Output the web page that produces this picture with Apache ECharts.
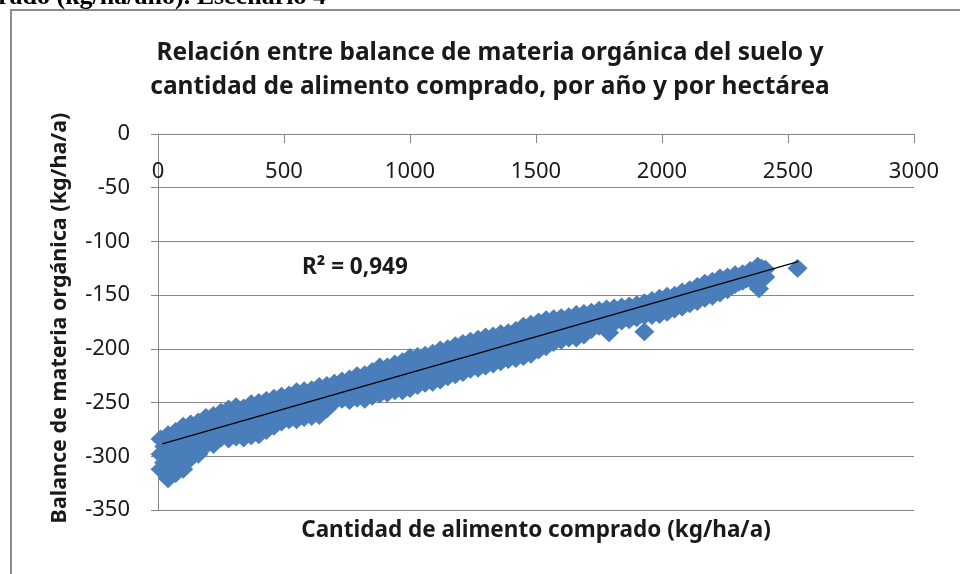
<!DOCTYPE html>
<html>
<head>
<meta charset="utf-8">
<title>Balance de materia orgánica</title>
<script src="https://cdn.jsdelivr.net/npm/echarts@6.0.0/dist/echarts.min.js"></script>
<style>
  html, body { margin: 0; padding: 0; background: #fff; }
  #main { width: 960px; height: 574px; }
</style>
</head>
<body>
<div id="main"></div>
<script>
// Cantidad de alimento comprado (kg/ha/a) - posiciones
var compradoKg = [10, 40, 70, 100, 130, 160, 190, 220, 250, 280, 310, 340, 370, 400, 430, 460, 490, 520, 550, 580,
  610, 640, 670, 700, 730, 760, 790, 820, 850, 880, 910, 940, 970, 1000, 1030, 1060, 1090, 1120, 1150, 1180,
  1210, 1240, 1270, 1300, 1330, 1360, 1390, 1420, 1450, 1480, 1510, 1540, 1570, 1600, 1630, 1660, 1690, 1720, 1750, 1780,
  1810, 1840, 1870, 1900, 1960, 1990, 2020, 2050, 2080, 2110, 2140, 2170, 2200, 2230, 2260, 2290, 2320, 2350, 2380];
// balance de MO: borde superior, centro e inferior de la nube de puntos
var balanceAlto = [-284, -280, -277, -272, -270, -268, -264, -262, -259, -256, -254, -255, -251, -250, -248, -246, -244, -243, -240, -239,
  -238, -235, -234, -232, -230, -228, -225, -224, -221, -217, -217, -214, -212, -208, -207, -206, -204, -201, -200, -197,
  -195, -193, -191, -189, -188, -186, -185, -183, -179, -177, -175, -173, -172, -171, -170, -168, -167, -166, -164, -163,
  -162, -161, -160, -159, -155, -153, -151, -150, -147, -145, -142, -139, -137, -134, -133, -131, -130, -127, -123];
var balanceMedio = [-298, -300, -295, -290, -284, -282, -277, -275, -271, -269, -267, -268, -265, -264, -261, -258, -256, -254, -252, -251,
  -250, -248, -245, -240, -238, -237, -235, -235, -232, -229, -228, -226, -225, -222, -220, -219, -217, -215, -213, -210,
  -208, -206, -204, -202, -201, -199, -197, -196, -193, -191, -188, -185, -183, -181, -180, -179, -177, -174, -171, -170,
  -169, -167, -166, -165, -162, -160, -158, -156, -154, -151, -149, -146, -144, -141, -139, -136, -134, -131, -127];
var balanceBajo = [-312, -321, -316, -312, -300, -298, -290, -289, -283, -284, -282, -283, -281, -280, -276, -272, -268, -266, -266, -264,
  -263, -262, -256, -249, -247, -248, -246, -247, -244, -242, -241, -239, -239, -237, -234, -232, -231, -229, -226, -224,
  -222, -219, -218, -216, -214, -212, -210, -209, -207, -205, -201, -198, -194, -192, -190, -190, -187, -182, -179, -178,
  -176, -174, -173, -171, -169, -168, -166, -163, -161, -158, -156, -153, -151, -148, -145, -140, -137, -135, -131];
// filas intermedias, desplazadas entre columnas
var compradoKgB = [25, 55, 85, 115, 145, 175, 205, 235, 265, 295, 325, 355, 385, 415, 445, 475, 505, 535, 565, 595,
  625, 655, 685, 715, 745, 775, 805, 835, 865, 895, 925, 955, 985, 1015, 1045, 1075, 1105, 1135, 1165, 1195,
  1225, 1255, 1285, 1315, 1345, 1375, 1405, 1435, 1465, 1495, 1525, 1555, 1585, 1615, 1645, 1675, 1705, 1735, 1765, 1795,
  1825, 1855, 1885, 1915, 1975, 2005, 2035, 2065, 2095, 2125, 2155, 2185, 2215, 2245, 2275, 2305, 2335, 2365, 2395];
var balanceMedioAlto = [-291, -289, -285, -280, -276, -274, -270, -268, -264, -262, -260, -261, -258, -256, -254, -252, -250, -248, -246, -245,
  -243, -241, -239, -236, -234, -232, -230, -229, -226, -223, -222, -220, -218, -215, -213, -212, -210, -208, -206, -203,
  -201, -199, -197, -195, -194, -192, -191, -189, -186, -184, -181, -179, -177, -176, -175, -173, -172, -170, -167, -166,
  -165, -164, -163, -162, -158, -156, -154, -153, -150, -148, -145, -142, -140, -137, -136, -133, -132, -129, -125];
var balanceMedioBajo = [-306, -311, -306, -302, -292, -290, -283, -282, -277, -276, -274, -275, -272, -271, -268, -265, -262, -260, -259, -257,
  -256, -255, -250, -244, -242, -242, -240, -241, -238, -235, -234, -232, -232, -229, -227, -225, -224, -222, -219, -217,
  -215, -212, -211, -209, -207, -205, -203, -202, -200, -198, -194, -191, -188, -186, -185, -184, -182, -178, -175, -174,
  -172, -170, -169, -168, -165, -164, -162, -159, -157, -154, -152, -149, -147, -144, -142, -138, -135, -133, -129];
// puntos sueltos
var extraX = [25, 55, 85, 115, 1930, 1930, 1930, 1790, 1930, 2385, 2410, 2410, 2538];
var extraY = [-306, -310, -306, -305, -157, -163, -169, -185, -184, -144, -126, -133, -125];
// linea de tendencia (extremos leidos)
var tendenciaX = [17, 2540];
var tendenciaY = [-288.5, -118.7];

var puntos = [];
for (var i = 0; i < compradoKg.length; i++) {
  puntos.push([compradoKg[i], balanceAlto[i]]);
  puntos.push([compradoKg[i], balanceMedio[i]]);
  puntos.push([compradoKg[i], balanceBajo[i]]);
  puntos.push([compradoKgB[i], balanceMedioAlto[i]]);
  puntos.push([compradoKgB[i], balanceMedioBajo[i]]);
}
for (var j = 0; j < extraX.length; j++) {
  puntos.push([extraX[j], extraY[j]]);
}
var tendencia = [];
for (var k = 0; k < tendenciaX.length; k++) {
  tendencia.push([tendenciaX[k], tendenciaY[k]]);
}

var fuente = '"Noto Sans", "Open Sans", sans-serif';
var gris = '#868686';
var myChart = echarts.init(document.getElementById('main'), null, { renderer: 'canvas' });
var option = {
  animation: false,
  backgroundColor: '#fff',
  grid: { left: 158, top: 134, width: 756, height: 376, containLabel: false },
  xAxis: {
    type: 'value', position: 'top', min: 0, max: 3000, interval: 500,
    axisLine: { show: true, lineStyle: { color: gris, width: 1 } },
    axisTick: { show: true, inside: true, length: 9, lineStyle: { color: gris } },
    axisLabel: { inside: true, margin: 27, color: '#1a1a1a', fontSize: 22, fontFamily: fuente,
      formatter: function (v) { return String(v); } },
    splitLine: { show: false }
  },
  yAxis: {
    type: 'value', min: -350, max: 0, interval: 50,
    axisLine: { show: true, lineStyle: { color: gris, width: 1 } },
    axisTick: { show: true, length: 7, lineStyle: { color: gris } },
    axisLabel: { margin: 28, color: '#1a1a1a', fontSize: 22, fontFamily: fuente,
      formatter: function (v) { return String(v); } },
    splitLine: { show: true, lineStyle: { color: gris, width: 1 } }
  },
  series: [
    {
      type: 'scatter', data: puntos, symbol: 'diamond', symbolSize: [20, 19],
      itemStyle: { color: '#4a7ebb', opacity: 1 }, z: 2
    },
    {
      type: 'line', data: tendencia, showSymbol: false, symbol: 'none',
      lineStyle: { color: '#000', width: 1.3 }, z: 3
    }
  ],
  graphic: [
    { type: 'rect', shape: { x: 11, y: 10, width: 980, height: 600 }, style: { fill: null, stroke: '#8c8c8c', lineWidth: 2 }, silent: true },
    { type: 'text', x: -2, y: 10, style: { text: 'rado (kg/ha/año). Escenario 4', font: 'bold 26px "Liberation Serif", serif', fill: '#000', textAlign: 'left', textVerticalAlign: 'bottom' } },
    { type: 'text', x: 490, y: 70, style: { text: 'Relación entre balance de materia orgánica del suelo y\ncantidad de alimento comprado, por año y por hectárea', font: 'bold 24.5px ' + fuente, fill: '#1a1a1a', textAlign: 'center', textVerticalAlign: 'middle', lineHeight: 34 } },
    { type: 'text', x: 60, y: 318, rotation: Math.PI / 2, style: { text: 'Balance de materia orgánica (kg/ha/a)', font: 'bold 21.5px ' + fuente, fill: '#1a1a1a', textAlign: 'center', textVerticalAlign: 'middle' } },
    { type: 'text', x: 536, y: 531, style: { text: 'Cantidad de alimento comprado (kg/ha/a)', font: 'bold 22.5px ' + fuente, fill: '#1a1a1a', textAlign: 'center', textVerticalAlign: 'middle' } },
    { type: 'text', x: 302, y: 268, style: { text: 'R² = 0,949', font: 'bold 22.5px ' + fuente, fill: '#1a1a1a', textAlign: 'left', textVerticalAlign: 'middle' } }
  ]
};
myChart.setOption(option);
</script>
</body>
</html>
